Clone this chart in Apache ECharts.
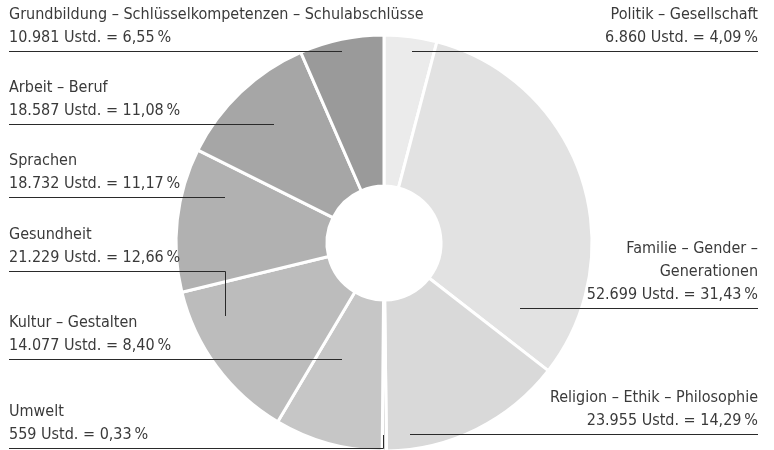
<!DOCTYPE html>
<html>
<head>
<meta charset="utf-8">
<script src="https://cdn.jsdelivr.net/npm/echarts@6/dist/echarts.min.js"></script>
<style>
  html, body { margin: 0; padding: 0; background: #fff; }
  #chart { width: 774px; height: 450px; }
</style>
</head>
<body>
<div id="chart"></div>
<script>
// Teaching hours (Unterrichtsstunden) per subject area, clockwise from the top
const categories = [
  'Politik – Gesellschaft',
  'Familie – Gender –\nGenerationen',
  'Religion – Ethik – Philosophie',
  'Umwelt',
  'Kultur – Gestalten',
  'Gesundheit',
  'Sprachen',
  'Arbeit – Beruf',
  'Grundbildung – Schlüsselkompetenzen – Schulabschlüsse'
];
const hours = [6860, 52699, 23955, 559, 14077, 21229, 18732, 18587, 10981];
const percents = [4.09, 31.43, 14.29, 0.33, 8.40, 12.66, 11.17, 11.08, 6.55];

// Grey shades per slice
const shades = ['#ebebeb', '#e2e2e2', '#d9d9d9', '#d0d0d0', '#c6c6c6', '#bcbcbc', '#b1b1b1', '#a6a6a6', '#9a9a9a'];

// Label placement: text anchor side, underline y, underline inner end, optional elbow end
const labelPlacement = [
  { side: 'right', lineY: 51.5,  innerX: 412 },
  { side: 'right', lineY: 308.5, innerX: 520 },
  { side: 'right', lineY: 434.5, innerX: 410 },
  { side: 'left',  lineY: 448.5, innerX: 383.5, elbowY: 435 },
  { side: 'left',  lineY: 359.5, innerX: 342 },
  { side: 'left',  lineY: 271.5, innerX: 225.5, elbowY: 316 },
  { side: 'left',  lineY: 197.5, innerX: 225 },
  { side: 'left',  lineY: 124.5, innerX: 274 },
  { side: 'left',  lineY: 51.5,  innerX: 342 }
];
const LEFT_X = 9, RIGHT_X = 758;

function fmtThousands(n) {
  return String(n).replace(/\B(?=(\d{3})+(?!\d))/g, '.');
}
function fmtPercent(p) {
  return p.toFixed(2).replace('.', ',') + '\u2009%';
}

const PIE_CENTER = [384, 243];
const PIE_RADIUS = [57, 208];

const sliceData = categories.map((name, i) => ({
  name: name,
  value: hours[i],
  itemStyle: { color: shades[i] }
}));

// Same values again, drawn transparent on top so the leader lines sit above every slice
const labelData = categories.map((name, i) => ({ name: name, value: hours[i] }));

const chart = echarts.init(document.getElementById('chart'), null, { renderer: 'canvas' });

chart.setOption({
  animation: false,
  series: [
    {
      type: 'pie',
      z: 2,
      center: PIE_CENTER,
      radius: PIE_RADIUS,
      startAngle: 90,
      clockwise: true,
      silent: true,
      itemStyle: { borderColor: '#ffffff', borderWidth: 3 },
      label: { show: false },
      labelLine: { show: false },
      data: sliceData
    },
    {
      type: 'pie',
      z: 5,
      center: PIE_CENTER,
      radius: PIE_RADIUS,
      startAngle: 90,
      clockwise: true,
      silent: true,
      avoidLabelOverlap: false,
      itemStyle: { color: 'rgba(0,0,0,0)', borderWidth: 0 },
      label: {
        show: true,
        position: 'outside',
        fontFamily: "'Liberation Sans Narrow', 'DejaVu Sans Condensed', Roboto, sans-serif",
        fontSize: 16,
        lineHeight: 23,
        color: '#3a3a3a',
        formatter: (p) => p.name + '\n' + fmtThousands(hours[p.dataIndex]) + ' Ustd. = ' + fmtPercent(percents[p.dataIndex])
      },
      labelLine: {
        show: true,
        lineStyle: { color: '#2a2a2a', width: 1 }
      },
      labelLayout: (params) => {
        const cfg = labelPlacement[params.dataIndex];
        const isLeft = cfg.side === 'left';
        const outerX = isLeft ? LEFT_X : RIGHT_X;
        const pts = cfg.elbowY !== undefined
          ? [[cfg.innerX, cfg.elbowY], [cfg.innerX, cfg.lineY], [outerX, cfg.lineY]]
          : [[cfg.innerX, cfg.lineY], [cfg.innerX, cfg.lineY], [outerX, cfg.lineY]];
        return {
          x: outerX,
          y: cfg.lineY - 2.5,
          align: isLeft ? 'left' : 'right',
          verticalAlign: 'bottom',
          labelLinePoints: pts
        };
      },
      data: labelData
    }
  ]
});
</script>
</body>
</html>
